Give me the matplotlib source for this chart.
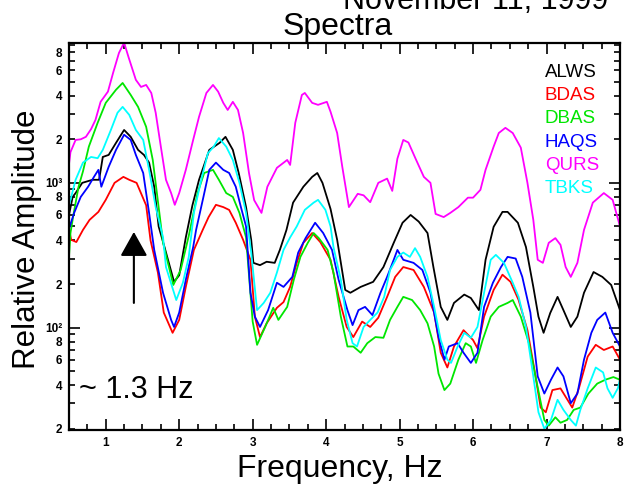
import matplotlib
matplotlib.use("Agg")
import matplotlib.pyplot as plt
from matplotlib.ticker import FixedLocator, FixedFormatter

plt.rcParams['font.family'] = ['Liberation Sans', 'DejaVu Sans']

# ---------------- data ----------------
stations = ["ALWS", "BDAS", "DBAS", "HAQS", "QURS", "TBKS"]
colors = ["#000000", "#ff0000", "#00e600", "#0000ff", "#ff00ff", "#00ffff"]

alws_f = [0.5, 0.55, 0.59, 0.68, 0.82, 0.91, 0.96, 1.04, 1.14, 1.25, 1.34, 1.44, 1.52, 1.59, 1.66, 1.72, 1.8, 1.93, 2.0, 2.09, 2.18, 2.27, 2.41, 2.55, 2.63, 2.73, 2.81, 2.91, 2.98, 3.01, 3.1, 3.19, 3.3, 3.37, 3.46, 3.55, 3.69, 3.81, 3.88, 3.95, 4.06, 4.15, 4.26, 4.33, 4.47, 4.64, 4.78, 4.92, 5.04, 5.15, 5.26, 5.38, 5.46, 5.56, 5.65, 5.74, 5.88, 5.97, 6.08, 6.17, 6.28, 6.4, 6.47, 6.61, 6.72, 6.82, 6.89, 6.96, 7.05, 7.15, 7.23, 7.33, 7.42, 7.51, 7.64, 7.76, 7.88, 8.0]
alws_a = [600, 800, 850, 1000, 1050, 1050, 1510, 1560, 1890, 2320, 2080, 1690, 1560, 1380, 940, 500, 360, 207, 230, 420, 700, 1050, 1690, 1890, 2080, 1690, 1170, 680, 404, 280, 270, 285, 280, 344, 473, 730, 940, 1100, 1170, 1000, 660, 404, 182, 174, 191, 207, 262, 385, 530, 600, 540, 450, 262, 139, 113, 148, 169, 160, 132, 294, 497, 630, 630, 530, 360, 191, 119, 92, 126, 163, 132, 101, 119, 174, 242, 224, 197, 132]

bdas_f = [0.5, 0.53, 0.6, 0.69, 0.78, 0.9, 1.0, 1.12, 1.24, 1.32, 1.42, 1.55, 1.61, 1.71, 1.79, 1.91, 2.0, 2.09, 2.2, 2.32, 2.4, 2.5, 2.6, 2.68, 2.77, 2.87, 2.97, 3.03, 3.1, 3.19, 3.33, 3.42, 3.51, 3.6, 3.69, 3.81, 3.92, 4.06, 4.17, 4.28, 4.37, 4.49, 4.6, 4.71, 4.83, 4.94, 5.05, 5.19, 5.33, 5.47, 5.56, 5.65, 5.74, 5.87, 6.0, 6.06, 6.15, 6.28, 6.4, 6.51, 6.62, 6.74, 6.83, 6.92, 6.99, 7.08, 7.19, 7.28, 7.35, 7.44, 7.56, 7.67, 7.78, 7.9, 8.0]
bdas_a = [473, 404, 390, 473, 555, 630, 763, 1000, 1100, 1050, 1000, 700, 400, 240, 127, 92, 113, 191, 344, 473, 580, 705, 680, 650, 530, 404, 294, 119, 86, 107, 137, 150, 191, 280, 385, 450, 390, 294, 163, 101, 86, 110, 101, 117, 163, 224, 262, 250, 191, 127, 67, 53, 74, 96, 82, 72, 119, 182, 232, 207, 155, 96, 53, 28, 26, 37, 38, 32, 28, 38, 63, 76, 70, 74, 60]

dbas_f = [0.5, 0.52, 0.56, 0.63, 0.69, 0.77, 0.89, 1.0, 1.14, 1.23, 1.34, 1.44, 1.55, 1.64, 1.73, 1.78, 1.92, 2.02, 2.13, 2.25, 2.34, 2.46, 2.54, 2.64, 2.73, 2.82, 2.91, 2.95, 3.0, 3.06, 3.17, 3.28, 3.35, 3.47, 3.56, 3.65, 3.75, 3.83, 3.9, 4.02, 4.1, 4.2, 4.29, 4.37, 4.47, 4.56, 4.67, 4.78, 4.87, 4.97, 5.05, 5.17, 5.28, 5.38, 5.47, 5.53, 5.61, 5.69, 5.8, 5.9, 5.97, 6.04, 6.13, 6.24, 6.35, 6.47, 6.54, 6.65, 6.76, 6.88, 6.97, 7.03, 7.12, 7.19, 7.28, 7.37, 7.46, 7.57, 7.69, 7.8, 7.91, 8.0]
dbas_a = [308, 450, 600, 940, 1200, 1780, 2600, 3570, 4400, 4900, 4050, 3350, 2440, 1440, 620, 385, 197, 250, 430, 850, 1170, 1230, 1050, 850, 800, 620, 420, 230, 110, 76, 101, 137, 113, 139, 214, 308, 385, 450, 415, 344, 240, 119, 74, 74, 67, 78, 86, 85, 113, 139, 163, 155, 132, 107, 74, 48, 37, 41, 60, 78, 74, 57, 82, 119, 139, 148, 155, 119, 78, 38.6, 23, 21, 24, 22, 23, 27, 28, 35, 41, 43.6, 45.5, 43.6]

haqs_f = [0.5, 0.51, 0.57, 0.66, 0.76, 0.84, 0.9, 0.94, 1.04, 1.14, 1.25, 1.34, 1.41, 1.51, 1.59, 1.66, 1.78, 1.89, 1.93, 2.0, 2.09, 2.19, 2.23, 2.33, 2.41, 2.5, 2.6, 2.68, 2.77, 2.84, 2.91, 2.97, 3.03, 3.1, 3.21, 3.33, 3.42, 3.54, 3.62, 3.72, 3.85, 3.96, 4.08, 4.17, 4.29, 4.36, 4.44, 4.53, 4.63, 4.74, 4.83, 4.92, 4.97, 5.05, 5.19, 5.31, 5.42, 5.53, 5.61, 5.67, 5.79, 5.87, 5.97, 6.06, 6.15, 6.27, 6.38, 6.47, 6.58, 6.67, 6.78, 6.88, 6.97, 7.06, 7.15, 7.23, 7.33, 7.42, 7.51, 7.61, 7.69, 7.8, 7.9, 8.0]
haqs_a = [480, 500, 620, 800, 940, 1100, 1230, 940, 1290, 1690, 2150, 1980, 1560, 1170, 620, 344, 174, 113, 101, 127, 214, 360, 473, 800, 1230, 1380, 1230, 1170, 940, 680, 500, 174, 119, 101, 132, 204, 191, 224, 330, 415, 530, 450, 344, 214, 132, 104, 132, 139, 122, 174, 224, 294, 344, 294, 280, 250, 174, 86, 60, 74, 78, 67, 57, 67, 139, 204, 262, 308, 300, 224, 127, 46, 35, 43.6, 53, 46, 30, 35, 60, 92, 113, 127, 92, 74]

qurs_f = [0.5, 0.52, 0.59, 0.66, 0.73, 0.8, 0.86, 0.93, 1.03, 1.10, 1.18, 1.25, 1.31, 1.41, 1.48, 1.55, 1.62, 1.68, 1.75, 1.82, 1.89, 1.94, 2.0, 2.09, 2.19, 2.27, 2.37, 2.46, 2.53, 2.6, 2.66, 2.73, 2.8, 2.87, 2.95, 3.02, 3.12, 3.2, 3.33, 3.47, 3.51, 3.58, 3.67, 3.71, 3.81, 3.89, 4.01, 4.06, 4.15, 4.22, 4.31, 4.43, 4.51, 4.6, 4.71, 4.83, 4.9, 4.97, 5.05, 5.12, 5.22, 5.33, 5.42, 5.49, 5.6, 5.69, 5.8, 5.93, 6.0, 6.1, 6.17, 6.28, 6.35, 6.44, 6.54, 6.65, 6.74, 6.82, 6.88, 6.95, 7.03, 7.12, 7.19, 7.26, 7.33, 7.42, 7.51, 7.63, 7.78, 7.9, 8.0]
qurs_a = [1350, 1630, 1980, 2000, 2080, 2350, 2720, 3630, 4270, 5750, 7900, 9300, 7400, 5150, 4600, 4750, 4180, 3050, 1780, 1050, 850, 705, 850, 1230, 1980, 2860, 4180, 4750, 4270, 3570, 3190, 3630, 3190, 2210, 1170, 760, 620, 940, 1270, 1440, 1330, 2600, 4050, 4180, 3570, 3460, 3630, 3100, 2210, 1290, 680, 840, 820, 735, 1000, 1070, 880, 1470, 1980, 1900, 1460, 1100, 1000, 610, 580, 620, 680, 790, 790, 895, 1230, 1780, 2210, 2400, 2210, 1750, 1000, 555, 294, 280, 385, 415, 373, 262, 224, 280, 473, 730, 850, 763, 500]

tbks_f = [0.5, 0.51, 0.59, 0.69, 0.8, 0.89, 0.96, 1.07, 1.16, 1.23, 1.32, 1.41, 1.51, 1.59, 1.68, 1.78, 1.82, 1.96, 2.05, 2.13, 2.2, 2.3, 2.39, 2.47, 2.54, 2.64, 2.73, 2.82, 2.91, 2.98, 3.06, 3.15, 3.24, 3.33, 3.42, 3.51, 3.6, 3.71, 3.83, 3.89, 3.99, 4.06, 4.1, 4.2, 4.28, 4.36, 4.42, 4.51, 4.6, 4.7, 4.79, 4.87, 4.97, 5.05, 5.14, 5.21, 5.28, 5.38, 5.47, 5.56, 5.65, 5.7, 5.79, 5.88, 5.97, 6.06, 6.15, 6.24, 6.31, 6.42, 6.54, 6.62, 6.72, 6.82, 6.89, 6.97, 7.06, 7.15, 7.23, 7.33, 7.4, 7.46, 7.56, 7.67, 7.77, 7.83, 7.9, 7.97, 8.0]
tbks_a = [700, 730, 1050, 1380, 1510, 1480, 1690, 2320, 3050, 3350, 2950, 2320, 1980, 1230, 680, 420, 262, 155, 204, 308, 620, 1050, 1600, 1780, 2040, 1780, 1440, 1000, 620, 330, 132, 148, 174, 240, 344, 420, 500, 651, 730, 763, 651, 500, 360, 214, 113, 78, 74, 101, 113, 127, 163, 250, 308, 330, 308, 354, 308, 224, 139, 82, 60, 57, 74, 92, 85, 101, 174, 294, 318, 280, 204, 163, 101, 46, 26, 20, 23, 31.7, 27, 23, 21, 27, 38, 53, 49, 38, 32.7, 38, 43.6]

series_f = [alws_f, bdas_f, dbas_f, haqs_f, qurs_f, tbks_f]
series_a = [alws_a, bdas_a, dbas_a, haqs_a, qurs_a, tbks_a]

x_ticks = [1, 2, 3, 4, 5, 6, 7, 8]
y_major = [100, 1000]
y_major_labels = ["10\u00b2", "10\u00b3"]
y_minor = [20, 30, 40, 50, 60, 70, 80, 90, 200, 300, 400, 500, 600, 700, 800, 900,
           2000, 3000, 4000, 5000, 6000, 7000, 8000, 9000]
y_minor_labels = ["2", "", "4", "", "6", "", "8", "", "2", "", "4", "", "6", "", "8", "",
                  "2", "", "4", "", "6", "", "8", ""]

arrow_x = 1.383
arrow_tail = 148
arrow_tip = 458

# ---------------- figure ----------------
W, H = 624, 484
fig = plt.figure(figsize=(W / 100, H / 100), dpi=100)
ax = fig.add_axes([69 / W, 1 - 430 / H, (620 - 69) / W, (430 - 42.7) / H])

for f, a, c in zip(series_f, series_a, colors):
    ax.plot(f, a, color=c, lw=1.3, solid_joinstyle='round')

ax.set_yscale('log')
ax.set_xlim(0.5, 8.0)
ax.set_ylim(19.6, 9300)

tick_family = ['Liberation Sans Narrow', 'Liberation Sans', 'DejaVu Sans']

ax.xaxis.set_major_locator(FixedLocator(x_ticks))
ax.xaxis.set_minor_locator(FixedLocator([x / 4 for x in range(2, 33)]))
ax.set_xticklabels([str(t) for t in x_ticks])

ax.yaxis.set_major_locator(FixedLocator(y_major))
ax.yaxis.set_major_formatter(FixedFormatter(y_major_labels))
ax.yaxis.set_minor_locator(FixedLocator(y_minor))
ax.yaxis.set_minor_formatter(FixedFormatter(y_minor_labels))

ax.tick_params(which='both', direction='in', top=True, right=True, width=1.2, color='k',
               labelsize=8.5)
ax.tick_params(which='major', length=8, pad=5)
ax.tick_params(which='minor', length=4, pad=5)
for lab in (ax.xaxis.get_majorticklabels() + ax.yaxis.get_majorticklabels()
            + ax.yaxis.get_minorticklabels()):
    lab.set_family(tick_family)
    lab.set_weight('bold')
for s in ax.spines.values():
    s.set_linewidth(1.6)

# legend as coloured text
for i, (name, c) in enumerate(zip(stations, colors)):
    fig.text(545 / W, 1 - (77 + 23.2 * i) / H, name, color=c, fontsize=13.5,
             ha='left', va='baseline')

# arrow and annotation
ax.annotate('', xy=(arrow_x, arrow_tip), xytext=(arrow_x, arrow_tail),
            arrowprops=dict(arrowstyle='-|>,head_length=0.75,head_width=0.42',
                            color='k', lw=1.5, shrinkA=0, shrinkB=0,
                            mutation_scale=20))
ax.text(0.018, 0.083, "~ 1.3 Hz", transform=ax.transAxes, fontsize=22,
        ha='left', va='baseline')

# titles and axis labels
fig.text(343 / W, 1 - 9 / H, "November 11, 1999", fontsize=22, ha='left', va='baseline')
fig.text(338 / W, 1 - 35 / H, "Spectra", fontsize=23, ha='center', va='baseline')
fig.text(339.5 / W, 1 - 477 / H, "Frequency, Hz", fontsize=23, ha='center', va='baseline')
fig.text(27 / W, 245 / H, "Relative Amplitude", fontsize=22.5, rotation=90,
         ha='center', va='center')

fig.savefig("out.png", dpi=100)
